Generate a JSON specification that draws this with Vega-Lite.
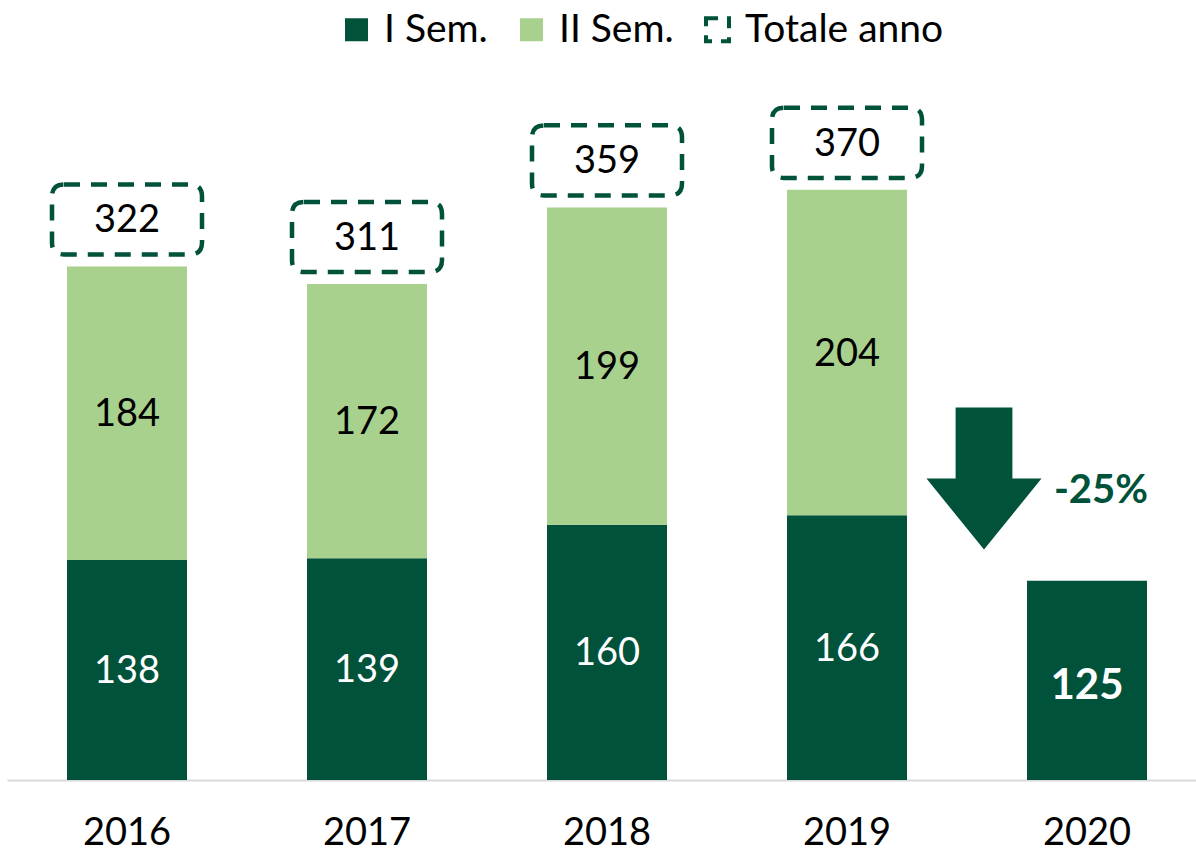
{
  "$schema": "https://vega.github.io/schema/vega-lite/v6.json",
  "width": 1200,
  "height": 638,
  "autosize": "none",
  "padding": {"left": 7, "top": 142, "right": 0, "bottom": 75},
  "background": "white",
  "config": {"view": {"stroke": null}, "font": "Lato"},
  "datasets": {
    "sem": [
      {"year": "2016", "sem": "I Sem.", "value": 138},
      {"year": "2016", "sem": "II Sem.", "value": 184},
      {"year": "2017", "sem": "I Sem.", "value": 139},
      {"year": "2017", "sem": "II Sem.", "value": 172},
      {"year": "2018", "sem": "I Sem.", "value": 160},
      {"year": "2018", "sem": "II Sem.", "value": 199},
      {"year": "2019", "sem": "I Sem.", "value": 166},
      {"year": "2019", "sem": "II Sem.", "value": 204},
      {"year": "2020", "sem": "I Sem.", "value": 125}
    ],
    "tot": [
      {"year": "2016", "total": 322},
      {"year": "2017", "total": 311},
      {"year": "2018", "total": 359},
      {"year": "2019", "total": 370}
    ]
  },
  "layer": [
    {
      "data": {"name": "sem"},
      "mark": {"type": "bar"},
      "encoding": {
        "x": {
          "field": "year", "type": "nominal",
          "scale": {"paddingInner": 0.5, "paddingOuter": 0.25},
          "axis": {"title": null, "labelAngle": 0, "labelFontSize": 38, "labelColor": "#000", "labelFont": "Lato", "ticks": false, "domainColor": "#d9d9d9", "domainWidth": 2, "labelPadding": 34}
        },
        "y": {"field": "value", "type": "quantitative", "stack": "zero", "scale": {"domain": [0, 400]}, "axis": null},
        "order": {"field": "sem", "sort": "ascending"},
        "color": {
          "field": "sem", "type": "nominal",
          "scale": {"domain": ["I Sem.", "II Sem.", "Totale anno"], "range": ["#00523B", "#A9D18E", "#ffffff"]},
          "legend": {
            "title": null, "orient": "none", "direction": "horizontal",
            "legendX": 330, "legendY": -132,
            "symbolType": "square", "symbolSize": 529,
            "labelFontSize": 39, "labelFont": "Lato", "labelColor": "#000", "labelLimit": 0,
            "labelOffset": 8, "columnPadding": 24,
            "encode": {
              "symbols": {
                "update": {
                  "stroke": {"signal": "datum.value === 'Totale anno' ? '#00523B' : 'transparent'"},
                  "strokeWidth": {"value": 4},
                  "strokeDash": {"signal": "datum.value === 'Totale anno' ? [12,9] : [1,0]"}
                }
              }
            }
          }
        }
      }
    },
    {
      "data": {"name": "sem"},
      "transform": [
        {"filter": "datum.year !== '2020'"},
        {"stack": "value", "groupby": ["year"], "sort": [{"field": "sem"}], "as": ["v0", "v1"]},
        {"calculate": "(datum.v0 + datum.v1) / 2", "as": "mid"}
      ],
      "mark": {"type": "text", "fontSize": 38, "font": "Lato", "baseline": "middle", "align": "center", "yOffset": 2},
      "encoding": {
        "x": {"field": "year", "type": "nominal"},
        "y": {"field": "mid", "type": "quantitative"},
        "text": {"field": "value"},
        "color": {"condition": {"test": "datum.sem === 'I Sem.'", "value": "#ffffff"}, "value": "#000000"}
      }
    },
    {
      "data": {"name": "sem"},
      "transform": [
        {"filter": "datum.year === '2020'"},
        {"calculate": "datum.value / 2", "as": "mid"}
      ],
      "mark": {"type": "text", "fontSize": 42, "fontWeight": "bold", "font": "Lato", "baseline": "middle", "align": "center", "color": "#ffffff", "yOffset": 6},
      "encoding": {
        "x": {"field": "year", "type": "nominal"},
        "y": {"field": "mid", "type": "quantitative"},
        "text": {"field": "value"}
      }
    },
    {
      "data": {"name": "tot"},
      "mark": {
        "type": "point", "filled": false, "opacity": 1,
        "shape": "M-0.84,-0.467 H0.84 Q1,-0.467 1,-0.307 V0.307 Q1,0.467 0.84,0.467 H-0.84 Q-1,0.467 -1,0.307 V-0.307 Q-1,-0.467 -0.84,-0.467 Z",
        "size": 22500, "stroke": "#00523B", "strokeWidth": 4.5, "strokeDash": [16, 11], "yOffset": -47
      },
      "encoding": {
        "x": {"field": "year", "type": "nominal"},
        "y": {"field": "total", "type": "quantitative"}
      }
    },
    {
      "data": {"name": "tot"},
      "mark": {"type": "text", "fontSize": 38, "font": "Lato", "baseline": "middle", "align": "center", "color": "#000000", "yOffset": -45},
      "encoding": {
        "x": {"field": "year", "type": "nominal"},
        "y": {"field": "total", "type": "quantitative"},
        "text": {"field": "total"}
      }
    },
    {
      "data": {"values": [{"label": "-25%"}]},
      "mark": {
        "type": "point", "filled": true, "opacity": 1, "color": "#00523B",
        "shape": "M-0.4,-1 H0.4 V0 H0.81 L0,1 L-0.81,0 H-0.4 Z",
        "size": 20164, "xOffset": -103
      },
      "encoding": {
        "x": {"datum": "2020", "type": "nominal"},
        "y": {"datum": 189, "type": "quantitative"}
      }
    },
    {
      "data": {"values": [{"label": "-25%"}]},
      "mark": {"type": "text", "fontSize": 40, "fontWeight": "bold", "font": "Lato", "baseline": "middle", "align": "center", "color": "#00523B", "xOffset": 14},
      "encoding": {
        "x": {"datum": "2020", "type": "nominal"},
        "y": {"datum": 181, "type": "quantitative"},
        "text": {"field": "label"}
      }
    }
  ]
}
